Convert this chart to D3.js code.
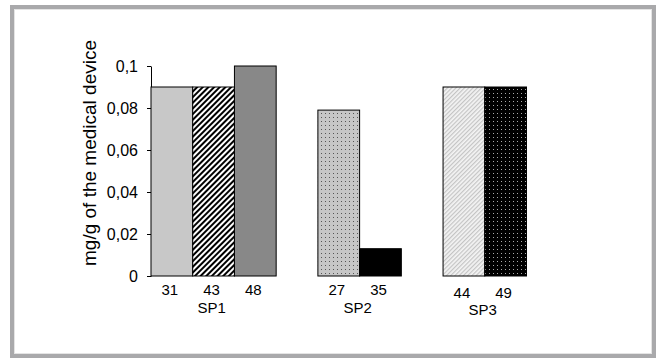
<!DOCTYPE html>
<html><head><meta charset="utf-8">
<script src="https://cdn.jsdelivr.net/npm/d3@7"></script>
<style>body{margin:0;background:#fff}svg{display:block}</style>
</head><body>
<script>
const groups = ["SP1","SP2","SP3"];
const barLabels = ["31","43","48","27","35","44","49"];
const barGroups = ["SP1","SP1","SP1","SP2","SP2","SP3","SP3"];
const values = [0.09,0.09,0.1,0.079,0.013,0.09,0.09];
const yTicks = [0,0.02,0.04,0.06,0.08,0.1];
const yLabel = "mg/g of the medical device";
const fills = ["solid-light","stripe-dark","solid-mid","dots-light","solid-black","stripe-light","dots-black"];

const W=658,H=358;
const svg=d3.select("body").append("svg").attr("width",W).attr("height",H);
const defs=svg.append("defs");
let p=defs.append("pattern").attr("id","stripe-dark").attr("patternUnits","userSpaceOnUse").attr("width",4).attr("height",4).attr("patternTransform","rotate(45)");
p.append("rect").attr("width",4).attr("height",4).attr("fill","#fff");
p.append("rect").attr("width",2).attr("height",4).attr("fill","#000");
p=defs.append("pattern").attr("id","stripe-light").attr("patternUnits","userSpaceOnUse").attr("width",3).attr("height",3).attr("patternTransform","rotate(45)");
p.append("rect").attr("width",3).attr("height",3).attr("fill","#f4f4f4");
p.append("rect").attr("width",1.2).attr("height",3).attr("fill","#c4c4c4");
p=defs.append("pattern").attr("id","dots-light").attr("patternUnits","userSpaceOnUse").attr("width",4).attr("height",4);
p.append("rect").attr("width",4).attr("height",4).attr("fill","#c6c6c6");
p.append("rect").attr("x",1).attr("y",1).attr("width",1).attr("height",1).attr("fill","#555");
p=defs.append("pattern").attr("id","dots-black").attr("patternUnits","userSpaceOnUse").attr("width",4).attr("height",4);
p.append("rect").attr("width",4).attr("height",4).attr("fill","#000");
p.append("rect").attr("x",1).attr("y",1).attr("width",1).attr("height",1).attr("fill","#aaa");
const fillMap={"solid-light":"#c8c8c8","solid-mid":"#888888","solid-black":"#000","stripe-dark":"url(#stripe-dark)","stripe-light":"url(#stripe-light)","dots-light":"url(#dots-light)","dots-black":"url(#dots-black)"};

svg.append("rect").attr("x",12).attr("y",7).attr("width",642).attr("height",349).attr("fill","none").attr("stroke","#a9a9ab").attr("stroke-width",4);
svg.append("rect").attr("x",14.5).attr("y",9.5).attr("width",637).attr("height",344).attr("fill","none").attr("stroke","#e4e4e4").attr("stroke-width",1);

const slots=[];
groups.forEach((g,gi)=>{barLabels.forEach((l,i)=>{if(barGroups[i]===g)slots.push(l);}); if(gi<groups.length-1)slots.push("gap"+gi);});
const x=d3.scaleBand().domain(slots).range([151,526.5]).padding(0);
const y=d3.scaleLinear().domain([0,0.1]).range([276,66]);

const font="Liberation Sans, Arial, sans-serif";
const fmt=d=>String(d).replace(".",",");
const ax=svg.append("g").attr("transform","translate(151,0)")
 .call(d3.axisLeft(y).tickValues(yTicks).tickSize(4).tickPadding(9).tickFormat(fmt).tickSizeOuter(0));
ax.selectAll("text").attr("font-family",font).attr("font-size",16).attr("fill","#000");
ax.selectAll("line,path").attr("stroke","#000");

svg.append("g").selectAll("rect").data(values).join("rect")
 .attr("x",(d,i)=>x(barLabels[i])).attr("width",x.bandwidth())
 .attr("y",d=>y(d)).attr("height",d=>y(0)-y(d))
 .attr("fill",(d,i)=>fillMap[fills[i]]).attr("stroke","#000").attr("stroke-width",1);

svg.append("g").selectAll("text").data(barLabels).join("text")
 .attr("x",d=>x(d)+x.bandwidth()/2-2).attr("y",(d,i)=>295+(barGroups[i]==="SP3"?3:0))
 .attr("text-anchor","middle").attr("font-family",font).attr("font-size",15).text(d=>d);

svg.append("g").selectAll("text").data(groups).join("text")
 .attr("x",g=>{const xs=barLabels.filter((l,i)=>barGroups[i]===g).map(l=>x(l));return (d3.min(xs)+d3.max(xs)+x.bandwidth())/2-2;})
 .attr("y",g=>313+(g==="SP3"?2:0))
 .attr("text-anchor","middle").attr("font-family",font).attr("font-size",15).text(g=>g);

svg.append("text").attr("transform","translate(96,153) rotate(-90)").attr("text-anchor","middle")
 .attr("font-family",font).attr("font-size",19).text(yLabel);
</script>
</body></html>
